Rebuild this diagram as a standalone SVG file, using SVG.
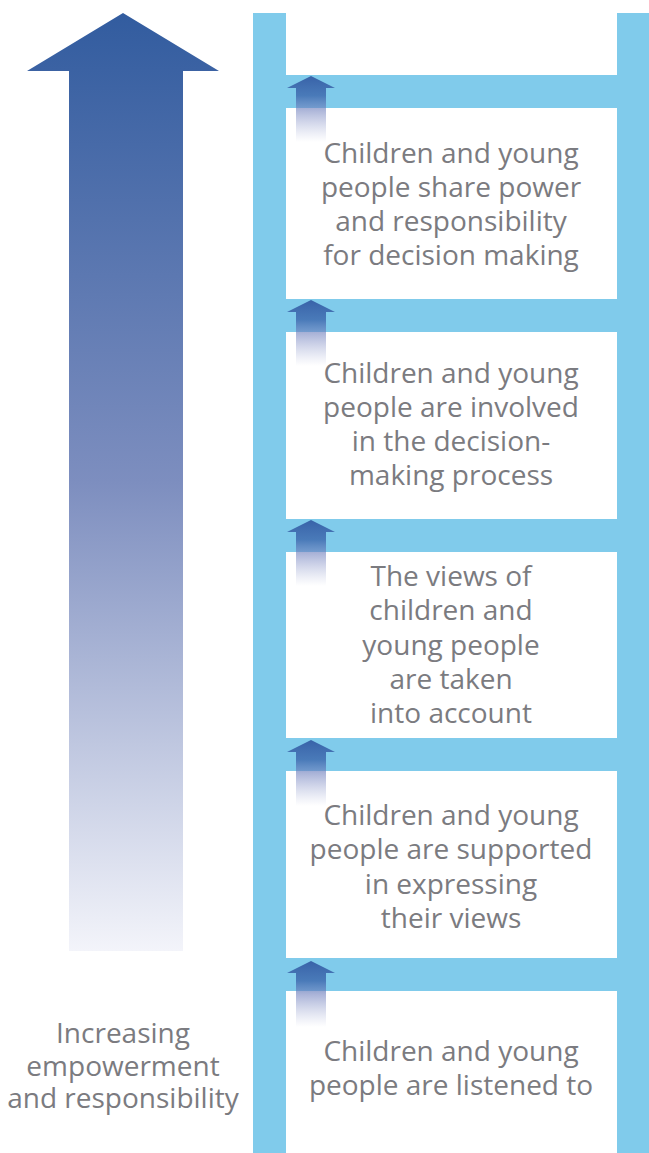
<svg xmlns="http://www.w3.org/2000/svg" width="649" height="1153" viewBox="0 0 649 1153">
<defs>
<style>
.t{font-family:"Open Sans","Noto Sans","Liberation Sans",sans-serif;font-size:28px;fill:#7b7b80;text-anchor:middle}
.rail{fill:#80cbeb}
</style>
<linearGradient id="big" x1="0" y1="0" x2="0" y2="1">
<stop offset="0" stop-color="#325c9f"/>
<stop offset="0.5" stop-color="#7d8ebf"/>
<stop offset="1" stop-color="#f3f4fa"/>
</linearGradient>
<linearGradient id="small" x1="0" y1="0" x2="0" y2="1">
<stop offset="0" stop-color="#3862a8" stop-opacity="1"/>
<stop offset="0.3" stop-color="#406cb0" stop-opacity="0.85"/>
<stop offset="0.5" stop-color="#6f7fbd" stop-opacity="0.6"/>
<stop offset="1" stop-color="#9aa3d0" stop-opacity="0"/>
</linearGradient>
<path id="sa" d="M25,0 L49,12 L40,12 L40,66 L10,66 L10,12 L1,12 Z" fill="url(#small)"/>
</defs>
<g id="ladder">
<rect class="rail" x="253" y="13" width="33" height="1140"/>
<rect class="rail" x="617" y="13" width="32" height="1140"/>
<rect class="rail" x="286" y="75" width="331" height="33"/>
<rect class="rail" x="286" y="299" width="331" height="33"/>
<rect class="rail" x="286" y="519" width="331" height="33"/>
<rect class="rail" x="286" y="738" width="331" height="33"/>
<rect class="rail" x="286" y="958" width="331" height="33"/>
</g>
<g id="big-arrow">
<polygon points="123,13 219,71 183,71 183,951 69,951 69,71 27,71" fill="url(#big)"/>
</g>
<g id="connectors">
<use href="#sa" x="286" y="76"/>
<use href="#sa" x="286" y="300"/>
<use href="#sa" x="286" y="520"/>
<use href="#sa" x="286" y="740"/>
<use href="#sa" x="286" y="961"/>
</g>
<g id="label-left">
<text class="t" x="123" y="1043">Increasing</text>
<text class="t" x="123" y="1076">empowerment</text>
<text class="t" x="123" y="1108">and responsibility</text>
</g>
<g id="step5">
<text class="t" x="451" y="163">Children and young</text>
<text class="t" x="451" y="197">people share power</text>
<text class="t" x="451" y="231">and responsibility</text>
<text class="t" x="451" y="265">for decision making</text>
</g>
<g id="step4">
<text class="t" x="451" y="383">Children and young</text>
<text class="t" x="451" y="417">people are involved</text>
<text class="t" x="451" y="451">in the decision-</text>
<text class="t" x="451" y="485">making process</text>
</g>
<g id="step3">
<text class="t" x="451" y="586">The views of</text>
<text class="t" x="451" y="620">children and</text>
<text class="t" x="451" y="655">young people</text>
<text class="t" x="451" y="689">are taken</text>
<text class="t" x="451" y="723">into account</text>
</g>
<g id="step2">
<text class="t" x="451" y="825">Children and young</text>
<text class="t" x="451" y="859">people are supported</text>
<text class="t" x="451" y="894">in expressing</text>
<text class="t" x="451" y="928">their views</text>
</g>
<g id="step1">
<text class="t" x="451" y="1061">Children and young</text>
<text class="t" x="451" y="1095">people are listened to</text>
</g>
</svg>
